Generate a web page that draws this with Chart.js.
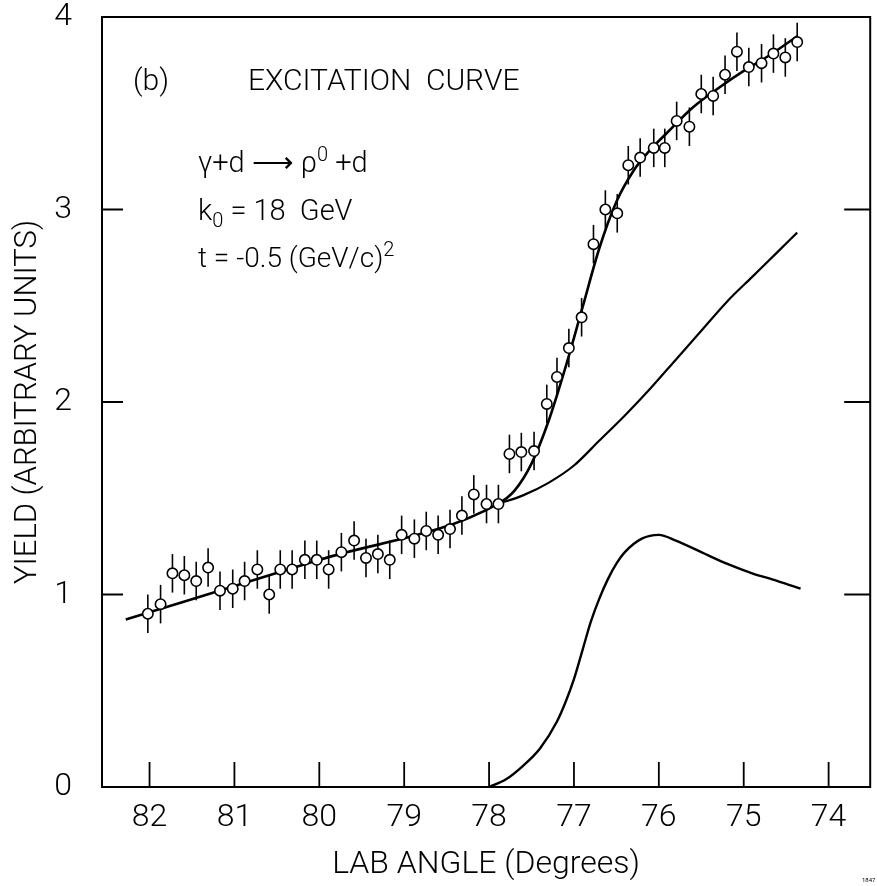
<!DOCTYPE html>
<html>
<head>
<meta charset="utf-8">
<script src="https://cdn.jsdelivr.net/npm/chart.js@4.4.1/dist/chart.umd.min.js"></script>
<style>
html, body { margin: 0; padding: 0; background: #fff; }
canvas { display: block; }
</style>
</head>
<body>
<canvas id="chart" width="877" height="886"></canvas>
<script>
const FONT = "Roboto, 'Liberation Sans', 'DejaVu Sans', sans-serif";
const WEIGHT = '300';

// measured points (lab angle in degrees, yield)
const angle = [82.02, 81.87, 81.73, 81.59, 81.45, 81.31, 81.17, 81.02, 80.88, 80.73,
               80.59, 80.46, 80.32, 80.17, 80.03, 79.89, 79.74, 79.59, 79.45, 79.31,
               79.17, 79.03, 78.88, 78.74, 78.60, 78.46, 78.32, 78.18, 78.03, 77.89,
               77.76, 77.62, 77.47, 77.32, 77.20, 77.06, 76.91, 76.77, 76.63, 76.49,
               76.36, 76.22, 76.06, 75.93, 75.79, 75.64, 75.50, 75.36, 75.22, 75.08,
               74.94, 74.79, 74.65, 74.51, 74.37];
const yieldVal = [0.90, 0.95, 1.11, 1.10, 1.07, 1.14, 1.02, 1.03, 1.07, 1.13,
                  1.00, 1.13, 1.13, 1.18, 1.18, 1.13, 1.22, 1.28, 1.19, 1.21,
                  1.18, 1.31, 1.29, 1.33, 1.31, 1.34, 1.41, 1.52, 1.47, 1.47,
                  1.73, 1.74, 1.745, 1.99, 2.13, 2.28, 2.44, 2.82, 3.00, 2.98,
                  3.23, 3.27, 3.32, 3.32, 3.46, 3.43, 3.60, 3.59, 3.70, 3.82,
                  3.74, 3.76, 3.81, 3.79, 3.87];
const yieldErr = 0.10;

// total fit curve
const fitAngle = [82.28, 80.0, 77.9, 77.7, 77.5, 77.3, 77.1, 76.9, 76.7, 76.5,
                  76.3, 76.1, 75.9, 75.6, 75.3, 75.0, 74.7, 74.37];
const fitYield = [0.87, 1.18, 1.47, 1.54, 1.68, 1.90, 2.18, 2.49, 2.80, 3.04,
                  3.20, 3.31, 3.40, 3.53, 3.63, 3.72, 3.80, 3.90];

// background curve
const bgAngle = [77.9, 77.6, 77.3, 77.0, 76.7, 76.4, 76.1, 75.8, 75.5, 75.2, 74.9, 74.6, 74.37];
const bgYield = [1.47, 1.515, 1.58, 1.67, 1.80, 1.93, 2.07, 2.22, 2.37, 2.52, 2.65, 2.78, 2.88];

// resonance curve
const resAngle = [78.0, 77.8, 77.6, 77.4, 77.2, 77.1, 77.0, 76.9, 76.8, 76.7,
                  76.6, 76.5, 76.4, 76.2, 76.0, 75.8, 75.5, 75.2, 74.9, 74.6, 74.33];
const resYield = [0.0, 0.04, 0.11, 0.20, 0.34, 0.44, 0.56, 0.71, 0.86, 0.98,
                  1.08, 1.16, 1.22, 1.29, 1.31, 1.28, 1.22, 1.16, 1.11, 1.07, 1.03];

const xTicks = [82, 81, 80, 79, 78, 77, 76, 75, 74];
const yTicks = [0, 1, 2, 3, 4];

function pairs(xs, ys) {
    return xs.map((v, i) => ({x: v, y: ys[i]}));
}

function rich(ctx, x, y, parts, size) {
    for (const [t, s, dy] of parts) {
        ctx.font = WEIGHT + ' ' + Math.round(size * s) + 'px ' + FONT;
        ctx.fillText(t, x, y + dy * size);
        x += ctx.measureText(t).width;
    }
}

const decor = {
    id: 'decor',
    beforeDatasetsDraw(chart) {
        const ctx = chart.ctx, xs = chart.scales.x, ys = chart.scales.y;
        ctx.save();
        ctx.strokeStyle = '#000';
        ctx.lineWidth = 1.6;
        for (let i = 0; i < angle.length; i++) {
            const px = xs.getPixelForValue(angle[i]);
            ctx.beginPath();
            ctx.moveTo(px, ys.getPixelForValue(yieldVal[i] - yieldErr));
            ctx.lineTo(px, ys.getPixelForValue(yieldVal[i] + yieldErr));
            ctx.stroke();
        }
        ctx.restore();
    },
    afterDraw(chart) {
        const ctx = chart.ctx, a = chart.chartArea;
        const xs = chart.scales.x, ys = chart.scales.y;
        ctx.save();
        ctx.strokeStyle = '#000';
        ctx.lineWidth = 2;
        ctx.strokeRect(a.left, a.top, a.right - a.left, a.bottom - a.top);
        // inward ticks
        ctx.lineWidth = 1.8;
        ctx.beginPath();
        for (const v of xTicks) {
            const px = xs.getPixelForValue(v);
            ctx.moveTo(px, a.bottom);
            ctx.lineTo(px, a.bottom - 25);
        }
        for (const v of [1, 2, 3]) {
            const py = ys.getPixelForValue(v);
            ctx.moveTo(a.left, py);
            ctx.lineTo(a.left + 21, py);
            ctx.moveTo(a.right, py);
            ctx.lineTo(a.right - 26, py);
        }
        ctx.stroke();

        // annotations
        ctx.fillStyle = '#000';
        ctx.textBaseline = 'alphabetic';
        ctx.textAlign = 'left';
        ctx.font = WEIGHT + ' 30px ' + FONT;
        ctx.fillText('(b)', 133, 90);
        ctx.fillText('EXCITATION  CURVE', 248, 90);
        rich(ctx, 198, 172, [['\u03b3+d \u27f6 \u03c1', 1, 0], ['0', 0.7, -0.38], [' +d', 1, 0]], 29);
        rich(ctx, 198, 220, [['k', 1, 0], ['0', 0.7, 0.25], [' = 18  GeV', 1, 0]], 29);
        rich(ctx, 198, 267, [['t = -0.5 (GeV/c)', 1, 0], ['2', 0.7, -0.4]], 28);
        ctx.font = '6px ' + FONT;
        ctx.fillText('1847', 862, 882);
        ctx.restore();
    }
};

new Chart(document.getElementById('chart'), {
    type: 'scatter',
    data: {
        datasets: [{
            label: 'data',
            data: pairs(angle, yieldVal),
            pointRadius: 5.2,
            pointHoverRadius: 5.2,
            pointBackgroundColor: '#fff',
            pointBorderColor: '#000',
            pointBorderWidth: 1.6,
            showLine: false
        }, {
            label: 'fit',
            data: pairs(fitAngle, fitYield),
            showLine: true,
            pointRadius: 0,
            borderColor: '#000',
            borderWidth: 2.6,
            cubicInterpolationMode: 'monotone'
        }, {
            label: 'background',
            data: pairs(bgAngle, bgYield),
            showLine: true,
            pointRadius: 0,
            borderColor: '#000',
            borderWidth: 2.2,
            cubicInterpolationMode: 'monotone'
        }, {
            label: 'resonance',
            data: pairs(resAngle, resYield),
            showLine: true,
            pointRadius: 0,
            borderColor: '#000',
            borderWidth: 2.4,
            cubicInterpolationMode: 'monotone'
        }]
    },
    options: {
        responsive: false,
        devicePixelRatio: 1,
        animation: false,
        layout: { padding: { top: 17, right: 2, left: 0, bottom: 0 } },
        plugins: { legend: { display: false }, tooltip: { enabled: false } },
        scales: {
            x: {
                type: 'linear',
                reverse: true,
                min: 73.51,
                max: 82.56,
                afterBuildTicks: s => { s.ticks = xTicks.map(v => ({value: v})); },
                afterFit: s => { s.height = 99; s.paddingLeft = 0; s.paddingRight = 0; },
                grid: { display: false, drawTicks: false },
                border: { display: false },
                ticks: { color: '#000', font: { family: FONT, size: 32, weight: WEIGHT }, padding: 12 },
                title: {
                    display: true,
                    text: 'LAB ANGLE (Degrees)',
                    color: '#000',
                    font: { family: FONT, size: 32, weight: WEIGHT },
                    padding: { top: 0, bottom: 2 }
                }
            },
            y: {
                min: 0,
                max: 4,
                afterBuildTicks: s => { s.ticks = yTicks.map(v => ({value: v})); },
                afterFit: s => { s.width = 102; s.paddingTop = 0; s.paddingBottom = 0; },
                grid: { display: false, drawTicks: false },
                border: { display: false },
                ticks: { color: '#000', font: { family: FONT, size: 32, weight: WEIGHT }, padding: 30 },
                title: {
                    display: true,
                    text: 'YIELD (ARBITRARY UNITS)',
                    color: '#000',
                    font: { family: FONT, size: 31, weight: WEIGHT },
                    padding: { top: 10, bottom: 0 }
                }
            }
        }
    },
    plugins: [decor]
});
</script>
</body>
</html>
